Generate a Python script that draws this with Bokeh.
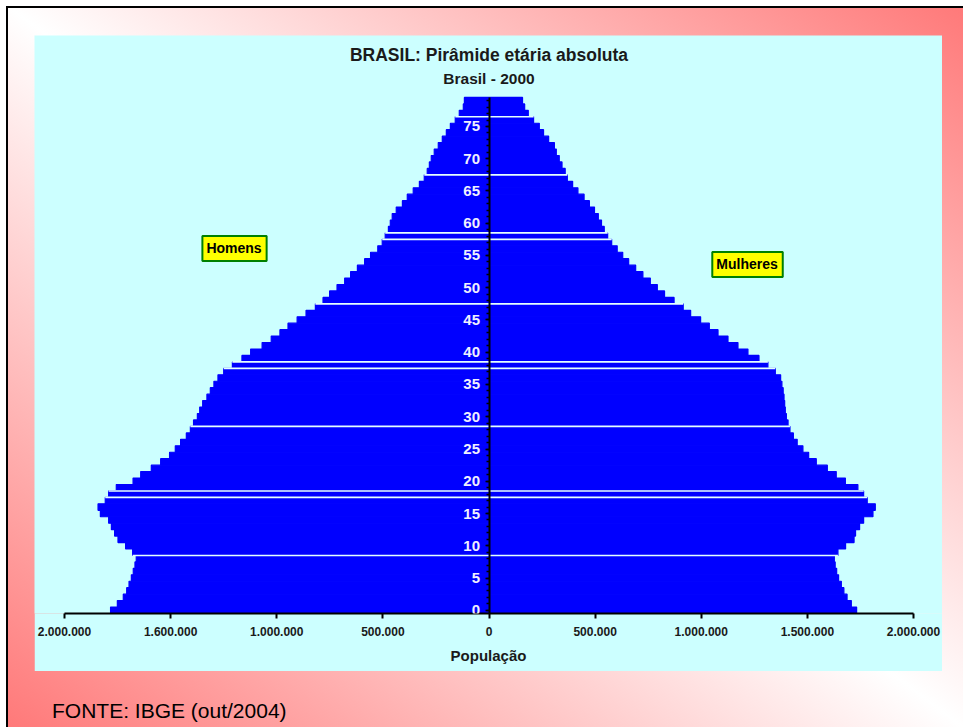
import numpy as np
from bokeh.plotting import figure
from bokeh.models import (ColumnDataSource, LinearAxis, FixedTicker, Range1d, Label, Div)
from bokeh.layouts import column
from bokeh.embed import file_html
from bokeh.resources import INLINE

# ---------------- data (population in thousands, single-year ages 0..79) -------------
ages = list(range(80))
male = [1783, 1751, 1723, 1707, 1696, 1685, 1676, 1668, 1662, 1679,
        1712, 1748, 1764, 1779, 1792, 1831, 1842, 1808, 1792, 1756,
        1677, 1641, 1591, 1547, 1505, 1478, 1453, 1426, 1407, 1392,
        1374, 1363, 1349, 1329, 1313, 1296, 1277, 1250, 1209, 1164,
        1123, 1069, 1026, 985, 947, 904, 862, 818, 782, 751,
        716, 680, 652, 620, 586, 558, 524, 503, 489, 474,
        465, 456, 437, 408, 385, 357, 328, 305, 291, 281,
        272, 258, 239, 220, 201, 182, 159, 140, 121, 116]
female = [1732, 1707, 1687, 1672, 1660, 1647, 1638, 1631, 1627, 1644,
          1680, 1720, 1727, 1746, 1765, 1809, 1820, 1782, 1765, 1738,
          1679, 1636, 1594, 1542, 1506, 1479, 1452, 1434, 1418, 1409,
          1401, 1396, 1393, 1390, 1386, 1380, 1374, 1349, 1314, 1272,
          1220, 1173, 1126, 1079, 1038, 997, 950, 915, 872, 827,
          793, 760, 725, 691, 658, 630, 604, 578, 559, 543,
          530, 515, 497, 473, 448, 419, 394, 369, 359, 344,
          331, 317, 308, 281, 257, 237, 210, 185, 168, 158]
# light separation lines visible in the original between bars (lower age of the pair)
gap_ages = [9, 18, 19, 29, 38, 39, 48, 58, 59, 68, 77]

x_ticks = [-2000000, -1500000, -1000000, -500000, 0, 500000, 1000000, 1500000, 2000000]
x_tick_labels = ["2.000.000", "1.600.000", "1.000.000", "500.000", "0",
                 "500.000", "1.000.000", "1.500.000", "2.000.000"]
y_major_ticks = list(range(0, 80, 5))
y_minor_ticks = list(range(0, 80))

title_line1 = "BRASIL: Pirâmide etária absoluta"
title_line2 = "Brasil - 2000"
x_label = "População"
label_men = "Homens"
label_women = "Mulheres"
source_note = "FONTE: IBGE (out/2004)"

# ---------------- build --------------------------------------------------------------
FONT = "Liberation Sans"
CYAN = "#CCFFFF"
BLUE = "#0000FF"

m = np.array(male, dtype=float) * 1000
f = np.array(female, dtype=float) * 1000
src = ColumnDataSource(dict(age=ages, mleft=-m, fright=f))

g = np.array(gap_ages)
gap_src = ColumnDataSource(dict(
    y=g - 0.5,
    x0=-np.maximum(m[g - 1], m[g]),
    x1=np.maximum(f[g - 1], f[g]),
))

p = figure(width=908, height=636,
           x_range=Range1d(-2141343, 2136631), y_range=Range1d(-0.5, 89.1),
           x_axis_location="below", y_axis_location=None,
           output_backend="svg", toolbar_location=None,
           min_border_left=0, min_border_right=0, min_border_top=0, min_border_bottom=58,
           background_fill_color=CYAN, border_fill_color=CYAN,
           outline_line_color=None)
for gr in p.grid:
    gr.visible = False
p.margin = (35, 0, 0, 34)

p.hbar(y="age", height=1, left="mleft", right=0, source=src,
       fill_color=BLUE, line_color=BLUE, line_width=1.2)
p.hbar(y="age", height=1, left=0, right="fright", source=src,
       fill_color=BLUE, line_color=BLUE, line_width=1.2)
p.segment(x0="x0", y0="y", x1="x1", y1="y", source=gap_src,
          line_color="#E4FFFF", line_width=1.6)

# x axis
xa = p.xaxis[0]
xa.ticker = FixedTicker(ticks=x_ticks)
xa.major_label_overrides = dict(zip(x_ticks, x_tick_labels))
xa.bounds = (x_ticks[0], x_ticks[-1])
xa.axis_line_width = 2
xa.axis_line_color = "black"
xa.major_tick_in = 0
xa.major_tick_out = 5
xa.major_tick_line_width = 2
xa.minor_tick_line_color = None
xa.major_label_text_font = FONT
xa.major_label_text_font_style = "bold"
xa.major_label_text_font_size = "12px"
xa.major_label_text_color = "#1A1A1A"
xa.major_label_standoff = 8
xa.axis_label = x_label
xa.axis_label_text_font = FONT
xa.axis_label_text_font_style = "bold"
xa.axis_label_text_font_size = "15px"
xa.axis_label_text_color = "#1A1A1A"
xa.axis_label_standoff = 8

# y axis, drawn at x = 0
ya = LinearAxis(fixed_location=0,
                ticker=FixedTicker(ticks=y_major_ticks, minor_ticks=y_minor_ticks),
                bounds=(-0.5, 79.5),
                axis_line_width=2, axis_line_color="black",
                major_tick_in=0, major_tick_out=4, major_tick_line_width=1.5,
                minor_tick_in=0, minor_tick_out=3, minor_tick_line_width=1.5,
                major_label_text_color="#F0F0FF",
                major_label_text_font=FONT, major_label_text_font_style="bold",
                major_label_text_font_size="15px", major_label_standoff=5)
p.add_layout(ya, "left")

# titles
for txt, yy, fs in ((title_line1, 86.1, "17.5px"), (title_line2, 82.4, "15.5px")):
    p.add_layout(Label(x=0, y=yy, text=txt, text_align="center", text_baseline="middle",
                       text_font=FONT, text_font_style="bold", text_font_size=fs,
                       text_color="#1A1A1A"))

# sex labels
for txt, xx, yy in ((label_men, -1199000, 56.1), (label_women, 1218000, 53.6)):
    p.add_layout(Label(x=xx, y=yy, text=txt, text_align="center",
                       text_baseline="middle", text_font=FONT, text_font_style="bold",
                       text_font_size="14px", text_color="black",
                       background_fill_color="#FFFF00", border_line_color="#008000",
                       border_line_width=2, padding=(4, 5, 4, 5)))

note = Div(text=('<div style="font-family:\'Liberation Sans\',Arial,sans-serif;'
                 'font-size:21px;line-height:21px;color:#000;white-space:nowrap">'
                 + source_note + '</div>'),
           width=300, height=18, margin=(29, 0, 0, 52))

root = column(p, note, width=963, height=727,
              styles={"background": "linear-gradient(to top right, #FF7878 0%, #FFFFFF 50%, #FF7878 100%)",
                      "box-shadow": "inset 6px 6px 0 0 #FFFFFF, inset 8px 8px 0 0 #000000"})

open("out.html", "w").write(file_html(root, INLINE))
